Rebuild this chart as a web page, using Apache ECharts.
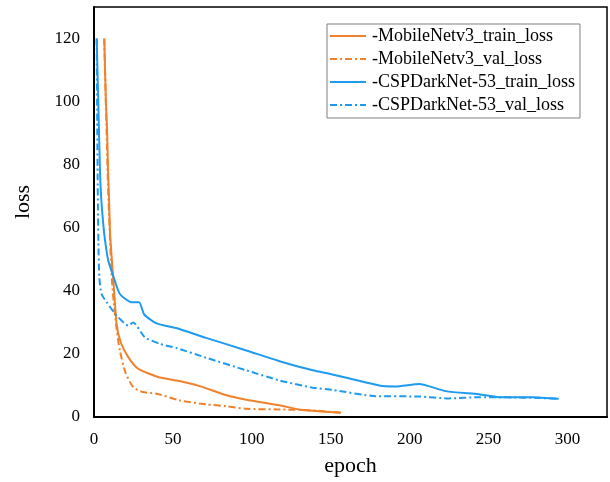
<!DOCTYPE html>
<html><head><meta charset="utf-8">
<script src="https://cdn.jsdelivr.net/npm/echarts@6/dist/echarts.min.js"></script>
<style>html,body{margin:0;padding:0;background:#fff}#c{width:610px;height:482px}</style>
</head><body><div id="c"></div>
<script>
var seriesNames = ['-MobileNetv3_train_loss','-MobileNetv3_val_loss','-CSPDarkNet-53_train_loss','-CSPDarkNet-53_val_loss'];
var yTicks = [0,20,40,60,80,100,120];
var xTicks = [0,50,100,150,200,250,300];

var mbTrainEpoch = [6.5,7.5,8.3,8.9,9.5,10.1,11,12.2,14.3,16.9,21.7,28,40.6,54,67,84,96.5,117.5,130,149,156.4];
var mbTrainLoss  = [120,101,91,78,70,59,52,44,29.5,23.7,19,15.3,12.7,11.4,9.8,6.9,5.5,3.7,2.4,1.6,1.4];

var mbValEpoch = [6.5,7.3,8,8.7,9.4,10.2,11,12.2,14.3,16.4,20,24.8,31,39.6,54,71,84,96.5,117.5,138.6,157];
var mbValLoss  = [120,103,90,76,66,56,46,38,28,21,14,9.5,7.9,7.4,5.3,4,3.4,2.6,2.4,2.1,1.3];

var cspTrainEpoch = [1.7,2.7,3.8,4.5,5.9,7,9,12,16.4,23.8,28.6,31.8,39.6,52,71,96.5,117.5,138.6,151,180.7,191,206,222.8,243.8,256.5,277.5,294.4];
var cspTrainLoss  = [120,100,78,70,61,56,49.6,45,39,36.4,36.4,32.5,29.7,28.2,25.1,21.1,17.7,14.8,13.5,10,9.7,10.5,8.2,7.2,6.3,6.3,5.8];

var cspValEpoch = [1.7,2.1,2.3,2.8,3.4,4.8,8,14.3,21.7,24.8,32.2,41.7,52,71,96.5,117.5,138.6,151,178.6,206,225,244,277,294];
var cspValLoss  = [120,90,76,55,44,39,36.4,32.2,29,30,25.3,23.2,21.9,18.8,14.8,11.6,9.3,8.6,6.6,6.5,5.9,6.3,6.1,5.8];

var ORANGE = '#F0822D', BLUE = '#1E9BF0';
function pairs(xs, ys){ return xs.map(function(x,i){ return [x, ys[i]]; }); }
var dashDot = [7,3,2,3];
var serif = 'Liberation Serif';

var chart = echarts.init(document.getElementById('c'));
chart.setOption({
  backgroundColor: '#fff',
  animation: false,
  grid: {left: 94, top: 7, right: 3, bottom: 62, show: true, borderColor: '#000', borderWidth: 1.5, backgroundColor: 'transparent'},
  legend: {
    orient: 'vertical', left: 327, top: 24,
    itemWidth: 36, itemHeight: 14, itemGap: 5,
    padding: [3, 5, 4, 2],
    borderColor: '#808080', borderWidth: 1, backgroundColor: '#fff',
    itemStyle: {opacity: 0},
    textStyle: {fontFamily: serif, fontSize: 18, color: '#000', padding: [0,0,0,1]},
    data: seriesNames
  },
  xAxis: {
    type: 'value', min: 0, max: 325, interval: 50,
    name: 'epoch', nameLocation: 'middle', nameGap: 38,
    nameTextStyle: {fontFamily: serif, fontSize: 22, color: '#000'},
    axisLine: {show: true, onZero: false, lineStyle: {color: '#000', width: 2}},
    axisTick: {show: false}, splitLine: {show: false},
    axisLabel: {fontFamily: serif, fontSize: 17, color: '#000', margin: 14,
      formatter: function(v){ return xTicks.indexOf(v) >= 0 ? String(v) : ''; }}
  },
  yAxis: {
    type: 'value', min: 0, max: 130, interval: 20,
    name: 'loss', nameLocation: 'middle', nameGap: 60, nameRotate: 90,
    nameTextStyle: {fontFamily: serif, fontSize: 22, color: '#000', padding: [0,0,0,20]},
    axisLine: {show: true, onZero: false, lineStyle: {color: '#000', width: 2}},
    axisTick: {show: false}, splitLine: {show: false},
    axisLabel: {fontFamily: serif, fontSize: 17, color: '#000', margin: 14,
      formatter: function(v){ return yTicks.indexOf(v) >= 0 ? String(v) : ''; }}
  },
  series: [
    {name: seriesNames[0], type: 'line', symbol: 'none', smooth: 0.2, color: ORANGE,
     lineStyle: {color: ORANGE, width: 2}, data: pairs(mbTrainEpoch, mbTrainLoss)},
    {name: seriesNames[1], type: 'line', symbol: 'none', smooth: 0.2, color: ORANGE,
     lineStyle: {color: ORANGE, width: 2, type: dashDot}, data: pairs(mbValEpoch, mbValLoss)},
    {name: seriesNames[2], type: 'line', symbol: 'none', smooth: 0.2, color: BLUE,
     lineStyle: {color: BLUE, width: 2}, data: pairs(cspTrainEpoch, cspTrainLoss)},
    {name: seriesNames[3], type: 'line', symbol: 'none', smooth: 0.2, color: BLUE,
     lineStyle: {color: BLUE, width: 2, type: dashDot}, data: pairs(cspValEpoch, cspValLoss)}
  ]
});
</script>
</body></html>
